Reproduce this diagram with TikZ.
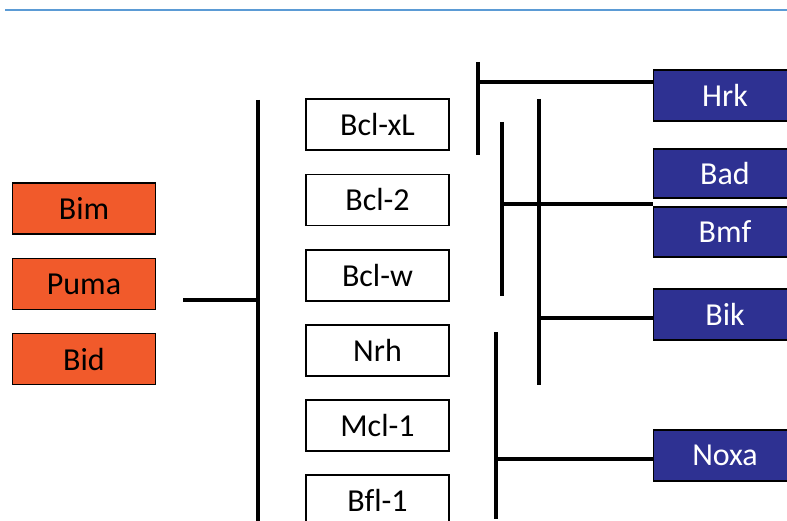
\documentclass[tikz,border=0pt]{standalone}
\usepackage{fontspec}
\setmainfont{Carlito}[Ligatures=NoCommon]
\definecolor{proorange}{HTML}{F15A2B}
\definecolor{sensblue}{HTML}{2E3192}
\definecolor{ruleblue}{HTML}{5B9BD5}
\tikzset{
  box/.style={draw=black,line width=1.6pt,minimum width=143pt,minimum height=51pt,
    inner sep=0pt,font=\fontsize{32}{36}\selectfont},
  activator/.style={box,fill=proorange,text=black},
  guard/.style={box,fill=white,text=black},
  sensitizer/.style={box,fill=sensblue,text=white},
  bar/.style={line width=4pt,black}
}
\begin{document}
\begin{tikzpicture}[x=1pt,y=-1pt]
\useasboundingbox (0,0) rectangle (787,521);
\clip (0,0) rectangle (787,521);
%\fill[white] (0,0) rectangle (787,521);
\draw[ruleblue,line width=1.5pt] (5,10)--(787,10);

% activators
\node[activator] (bim)  at (84,208.5) {Bim};
\node[activator] (puma) at (84,284) {Puma};
\node[activator] (bid)  at (84,359) {Bid};

% anti-apoptotic
\node[guard] (bclxl) at (377.5,124.5) {Bcl-xL};
\node[guard] (bcltwo) at (377.5,200) {Bcl-2};
\node[guard] (bclw) at (377.5,275.5) {Bcl-w};
\node[guard] (nrh) at (377.5,350.5) {Nrh};
\node[guard] (mclone) at (377.5,425.5) {Mcl-1};
\node[guard] (bflone) at (377.5,500.5) {Bfl-1};

% sensitizers
\node[sensitizer] (hrk)  at (725,95.5) {Hrk};
\node[sensitizer,minimum height=49pt] (bad)  at (725,173.5) {Bad};
\node[sensitizer,minimum height=50pt] (bmf)  at (725,232) {Bmf};
\node[sensitizer] (bik)  at (725,314.5) {Bik};
\node[sensitizer] (noxa) at (725,455.5) {Noxa};

% bars
\coordinate (pumaend) at (183,300);
\coordinate (hub) at (258,300);
\draw[bar] (258,100)--(258,530);
\draw[bar] (pumaend)--(hub);

\coordinate (hrkbar) at (478,82);
\draw[bar] (478,62)--(478,155);
\draw[bar] (hrkbar)--(hrkbar -| hrk.west);

\coordinate (badbar) at (502,204);
\draw[bar] (502,122)--(502,296);
\draw[bar] (badbar)--(badbar -| bad.west);

\coordinate (bikbar) at (539,318);
\draw[bar] (539,99)--(539,385);
\draw[bar] (bikbar)--(bikbar -| bik.west);

\coordinate (noxabar) at (496,459);
\draw[bar] (496,332)--(496,519);
\draw[bar] (noxabar)--(noxabar -| noxa.west);
\end{tikzpicture}
\end{document}
